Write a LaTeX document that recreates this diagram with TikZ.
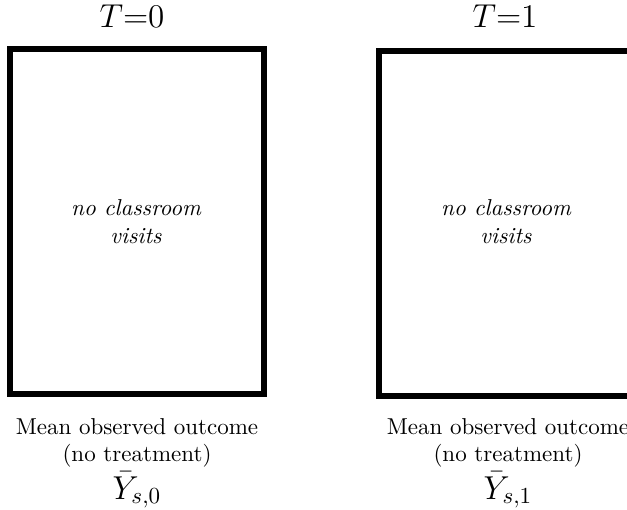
\documentclass[tikz,border=0pt]{standalone}
\begin{document}
\begin{tikzpicture}[x=0.4348pt,y=-0.4348pt,
  panel/.style={draw=black,line width=2.7pt},
  lbl/.style={inner sep=0pt,anchor=base,align=center},
  outlbl/.style={lbl,font=\fontsize{10}{11.4}\selectfont},
  biglbl/.style={inner sep=0pt,anchor=base,font=\Large}]
\useasboundingbox[fill=white] (0,0) rectangle (627,509);
\begin{scope}
\clip (0,0) rectangle (627,509);
\draw[panel] (10,49) rectangle (264,394);
\draw[panel] (379,51) rectangle (633,396);
\end{scope}
\node[biglbl] (t0) at (132,27) {$T{=}0$};
\node[biglbl] (t1) at (505,27) {$T{=}1$};
\node[lbl,font=\itshape] (v0) at (136,243) {no classroom\\visits};
\node[lbl,font=\itshape] (v1) at (506,243) {no classroom\\visits};
\node[outlbl] (m0) at (137,461) {Mean observed outcome\\(no treatment)};
\node[outlbl] (m1) at (508,461) {Mean observed outcome\\(no treatment)};
\node[biglbl] (y0) at (137,499) {$\bar{Y}_{s,0}$};
\node[biglbl] (y1) at (508,499) {$\bar{Y}_{s,1}$};
\end{tikzpicture}
\end{document}
